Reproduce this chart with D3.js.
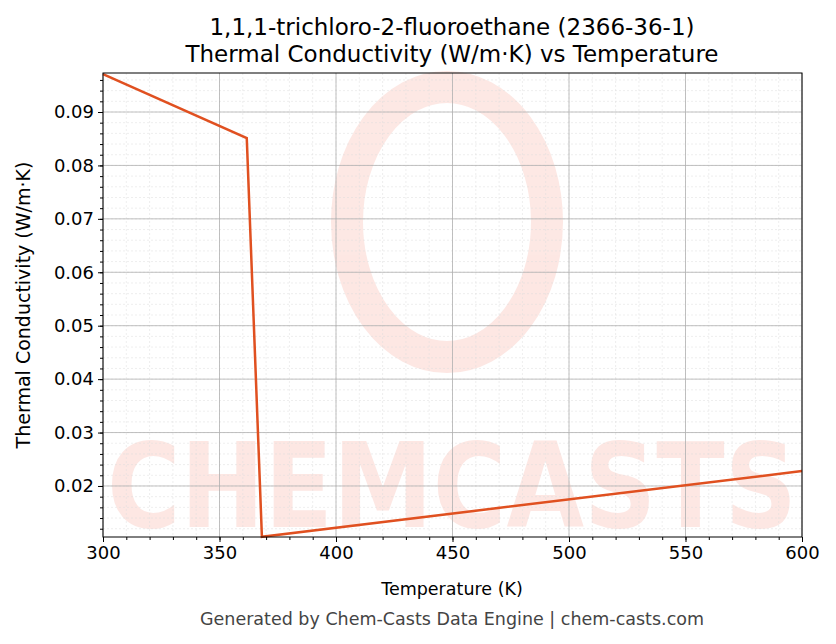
<!DOCTYPE html>
<html><head><meta charset="utf-8">
<script src="https://cdn.jsdelivr.net/npm/d3@7"></script>
<style>body{margin:0;background:#fff}text{font-family:"DejaVu Sans",sans-serif}</style>
</head><body><svg id="c" width="836" height="644"></svg>
<script>
const temps=[300,361.7,368.2,600];
const values=[0.0971,0.0851,0.0105,0.0228];
const xTicks=[300,350,400,450,500,550,600];
const yTicks=[0.02,0.03,0.04,0.05,0.06,0.07,0.08,0.09];
const title1="1,1,1-trichloro-2-fluoroethane (2366-36-1)";
const title2="Thermal Conductivity (W/m·K) vs Temperature";

const svg=d3.select("#c");
const L=103,R=802,T=73,B=537;
const x=d3.scaleLinear().domain([300,600]).range([L,R]);
const y=d3.scaleLinear().domain([0.01045,0.0973]).range([B,T]);

const wm=svg.append("g").attr("opacity",0.12);
wm.append("ellipse").attr("cx",447).attr("cy",222).attr("rx",100).attr("ry",135).attr("fill","none").attr("stroke","#f04020").attr("stroke-width",32);
wm.append("text").attr("x",452).attr("y",527).attr("text-anchor","middle").attr("font-size",118).attr("font-family","DejaVu Serif").attr("font-weight","bold").attr("fill","#f04020").attr("textLength",690).attr("lengthAdjust","spacingAndGlyphs").text("CHEMCASTS");

const xm=d3.range(300,601,10), ym=d3.range(0.012,0.0973,0.002);
const g=svg.append("g");
g.selectAll(".xm").data(xm).join("line").attr("x1",d=>x(d)).attr("x2",d=>x(d)).attr("y1",T).attr("y2",B).attr("stroke","#ddd").attr("stroke-width",0.5).attr("stroke-dasharray","2,2");
g.selectAll(".ym").data(ym).join("line").attr("y1",d=>y(d)).attr("y2",d=>y(d)).attr("x1",L).attr("x2",R).attr("stroke","#ddd").attr("stroke-width",0.5).attr("stroke-dasharray","2,2");
g.selectAll(".xM").data(xTicks).join("line").attr("x1",d=>x(d)).attr("x2",d=>x(d)).attr("y1",T).attr("y2",B).attr("stroke","#b0b0b0").attr("stroke-width",0.8);
g.selectAll(".yM").data(yTicks).join("line").attr("y1",d=>y(d)).attr("y2",d=>y(d)).attr("x1",L).attr("x2",R).attr("stroke","#b0b0b0").attr("stroke-width",0.8);

svg.append("path").datum(temps.map((t,i)=>[t,values[i]]))
 .attr("d",d3.line().x(d=>x(d[0])).y(d=>y(d[1])))
 .attr("fill","none").attr("stroke","#e05020").attr("stroke-width",2.5);

svg.append("rect").attr("x",L).attr("y",T).attr("width",R-L).attr("height",B-T).attr("fill","none").attr("stroke","#000").attr("stroke-width",1);

svg.append("g").attr("transform",`translate(0,${B})`).call(d3.axisBottom(x).tickValues(xm).tickFormat("").tickSize(3)).attr("class","minor");
svg.append("g").attr("transform",`translate(${L},0)`).call(d3.axisLeft(y).tickValues(ym).tickFormat("").tickSize(3)).attr("class","minor");
svg.selectAll(".minor text").remove();
svg.append("g").attr("class","major").attr("transform",`translate(0,${B})`).call(d3.axisBottom(x).tickValues(xTicks).tickFormat(d3.format("d")).tickSize(5).tickPadding(4));
svg.append("g").attr("class","major").attr("transform",`translate(${L},0)`).call(d3.axisLeft(y).tickValues(yTicks).tickFormat(d3.format(".2f")).tickSize(5).tickPadding(4));
svg.selectAll(".major .tick text").attr("font-size",18).attr("fill","#000").attr("font-family","DejaVu Sans");
svg.selectAll(".domain").remove();

svg.append("text").attr("x",452).attr("y",35).attr("text-anchor","middle").attr("font-size",23).text(title1);
svg.append("text").attr("x",452).attr("y",62).attr("text-anchor","middle").attr("font-size",23).text(title2);
svg.append("text").attr("x",452).attr("y",595).attr("text-anchor","middle").attr("font-size",17.5).text("Temperature (K)");
svg.append("text").attr("transform","translate(30,305) rotate(-90)").attr("text-anchor","middle").attr("font-size",19).text("Thermal Conductivity (W/m·K)");
svg.append("text").attr("x",452).attr("y",625).attr("text-anchor","middle").attr("font-size",17.5).attr("fill","#444").text("Generated by Chem-Casts Data Engine | chem-casts.com");
</script></body></html>
